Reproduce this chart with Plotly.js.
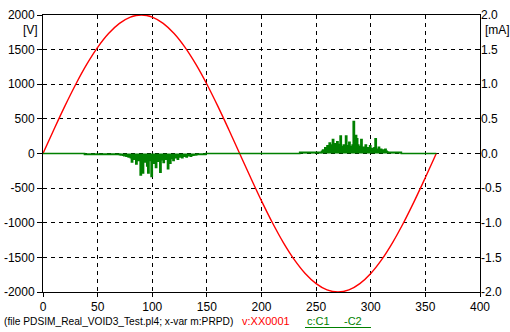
<!DOCTYPE html>
<html>
<head>
<meta charset="utf-8">
<script src="https://cdn.plot.ly/plotly-3.0.1.min.js"></script>
<style>html,body{margin:0;padding:0;background:#fff;}#chart{width:510px;height:332px;}</style>
</head>
<body>
<div id="chart"></div>
<script>
// Voltage (red), V, phase in degrees
const voltPhase = [0,10,20,30,40,50,60,70,80,90,100,110,120,130,140,150,160,170,180,190,200,210,220,230,240,250,260,270,280,290,300,310,320,330,340,350,360];
const voltValue = [0,347,684,1000,1286,1532,1732,1879,1970,2000,1970,1879,1732,1532,1286,1000,684,347,0,-347,-684,-1000,-1286,-1532,-1732,-1879,-1970,-2000,-1970,-1879,-1732,-1532,-1286,-1000,-684,-347,0];

// PD current (green), mA
const greenPhase = [0,38,
  70,71,72,73,74,75,76,77,78,79,80,81,82,83,84,85,86,87,88,89,90,91,92,93,94,95,96,97,98,99,
  100,101,102,103,104,105,106,107,108,109,110,111,112,113,114,115,116,117,118,119,120,121,122,123,124,125,
  126,127,128,129,130,131,132,133,134,135,136,137,138,139,140,141,149,
  235,255,256,257,258,259,260,261,262,263,264,265,266,267,268,269,270,271,272,273,274,275,276,277,278,279,
  280,281,282,283,284,285,286,287,288,289,290,291,292,293,294,295,296,297,298,299,300,301,302,303,304,305,
  306,307,308,309,310,311,312,313,314,315,316,328,360];
const greenValue = [0,-0.012,
  -0.015,-0.02,-0.02,-0.025,-0.03,-0.03,-0.04,-0.035,-0.05,-0.04,-0.06,-0.12,-0.05,-0.08,-0.06,-0.15,-0.07,-0.10,-0.06,-0.31,-0.08,-0.28,-0.09,-0.12,-0.07,-0.18,-0.28,-0.10,-0.06,-0.33,
  -0.09,-0.14,-0.07,-0.20,-0.08,-0.11,-0.06,-0.27,-0.09,-0.07,-0.13,-0.06,-0.08,-0.05,-0.22,-0.06,-0.14,-0.07,-0.05,-0.10,-0.05,-0.06,-0.04,-0.08,-0.04,-0.05,
  -0.03,-0.06,-0.03,-0.04,-0.03,-0.05,-0.025,-0.03,-0.02,-0.04,-0.02,-0.025,-0.02,-0.02,-0.015,-0.012,0,
  0.015,0.03,0.05,0.04,0.08,0.05,0.11,0.06,0.15,0.07,0.12,0.20,0.08,0.14,0.10,0.17,0.09,0.13,0.25,0.10,0.08,0.12,0.09,0.25,0.11,0.09,
  0.16,0.10,0.08,0.12,0.46,0.22,0.26,0.21,0.12,0.10,0.08,0.20,0.07,0.09,0.06,0.12,0.05,0.08,0.06,0.11,0.05,0.07,0.04,0.08,0.21,0.06,
  0.05,0.09,0.04,0.06,0.03,0.05,0.03,0.06,0.03,0.02,0.015,0,0];

const xTicks = [0,50,100,150,200,250,300,350,400];
const yTicks = [-2000,-1500,-1000,-500,0,500,1000,1500,2000];
const y2Ticks = [-2.0,-1.5,-1.0,-0.5,0.0,0.5,1.0,1.5,2.0];

const font = {family:'"Liberation Sans", Arial, sans-serif', size:12, color:'#000'};
const L = 43, R = 480, T = 15, B = 292;
const px = v => (v - L) / (R - L);
const py = v => (B - v) / (B - T);

const traces = [
  {x: greenPhase, y: greenValue, yaxis:'y2', type:'scatter', mode:'lines',
   line:{color:'#008000', width:1.7, shape:'hv'}, fill:'tozeroy', fillcolor:'#008000', hoverinfo:'none'},
  {x: voltPhase, y: voltValue, type:'scatter', mode:'lines',
   line:{color:'#ff0000', width:1.4, shape:'spline'}, hoverinfo:'none'}
];

const layout = {
  width:510, height:332,
  margin:{l:L, r:510-R, t:T, b:332-B, pad:0},
  paper_bgcolor:'#fff', plot_bgcolor:'#fff',
  showlegend:false,
  font: font,
  xaxis:{range:[0,400], tickvals:xTicks, ticktext:xTicks.map(String),
    showgrid:true, gridcolor:'#000', gridwidth:1, griddash:'4px,4px', zeroline:false,
    showline:true, linecolor:'#000', linewidth:1, mirror:true,
    ticks:'outside', ticklen:4, tickcolor:'#000', tickfont:font, fixedrange:true},
  yaxis:{range:[-2000,2000], tickvals:yTicks, ticktext:yTicks.map(String),
    showgrid:true, gridcolor:'#000', gridwidth:1, griddash:'4px,4px', zeroline:false,
    showline:true, linecolor:'#000', linewidth:1, mirror:true,
    ticks:'outside', ticklen:5, tickcolor:'#000', tickfont:font, fixedrange:true},
  yaxis2:{range:[-2,2], overlaying:'y', side:'right', tickvals:y2Ticks, ticktext:y2Ticks.map(v=>v.toFixed(1)),
    showgrid:false, zeroline:false, showline:false,
    ticks:'inside', ticklen:5, tickcolor:'#000', tickfont:font, fixedrange:true},
  annotations:[
    {text:'[V]', xref:'paper', yref:'paper', x:px(40), y:py(30), xanchor:'right', yanchor:'middle', showarrow:false, font:font},
    {text:'[mA]', xref:'paper', yref:'paper', x:px(483), y:py(30), xanchor:'left', yanchor:'middle', showarrow:false, font:font},
    {text:'(file PDSIM_Real_VOID3_Test.pl4; x-var m:PRPD)', xref:'paper', yref:'paper', x:px(2), y:py(321), xanchor:'left', yanchor:'middle', showarrow:false, font:{family:font.family, size:10.2, color:'#000'}},
    {text:'v:XX0001', xref:'paper', yref:'paper', x:px(240), y:py(321), xanchor:'left', yanchor:'middle', showarrow:false, font:{family:font.family, size:11, color:'#ff0000'}},
    {text:'c:C1', xref:'paper', yref:'paper', x:px(305), y:py(321), xanchor:'left', yanchor:'middle', showarrow:false, font:{family:font.family, size:11, color:'#008000'}},
    {text:'-C2', xref:'paper', yref:'paper', x:px(342), y:py(321), xanchor:'left', yanchor:'middle', showarrow:false, font:{family:font.family, size:11, color:'#008000'}}
  ],
  shapes:[
    {type:'line', xref:'paper', yref:'paper', x0:px(305), x1:px(371), y0:py(327.5), y1:py(327.5), line:{color:'#008000', width:1}}
  ]
};

Plotly.newPlot('chart', traces, layout, {staticPlot:true, displayModeBar:false});
</script>
</body>
</html>
